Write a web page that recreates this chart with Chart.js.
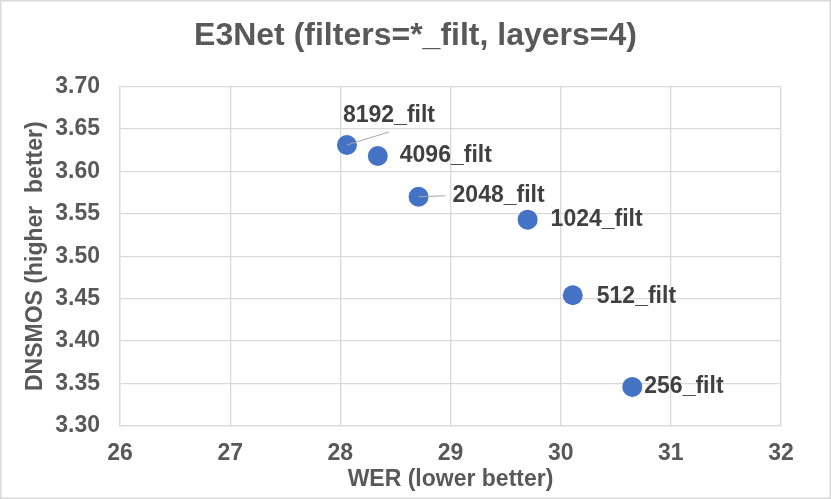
<!DOCTYPE html>
<html>
<head>
<meta charset="utf-8">
<script src="https://cdn.jsdelivr.net/npm/chart.js@4"></script>
<style>
  html, body { margin: 0; padding: 0; background: #fff; }
  #wrap { width: 831px; height: 499px; }
</style>
</head>
<body>
<div id="wrap"><canvas id="e3netChart" width="831" height="499"></canvas></div>
<script>
// data
const labels = ["8192_filt", "4096_filt", "2048_filt", "1024_filt", "512_filt", "256_filt"];
const werValues = [28.06, 28.34, 28.71, 29.70, 30.11, 30.65];
const dnsmosValues = [3.631, 3.618, 3.570, 3.543, 3.454, 3.346];
const xTicks = [26, 27, 28, 29, 30, 31, 32];
const yTicks = [3.30, 3.35, 3.40, 3.45, 3.50, 3.55, 3.60, 3.65, 3.70];

// label placement relative to each point (px), plus optional leader line end
const labelOffsets = [
    { dx: -4, dy: -29, line: [42, -13] },
    { dx: 22, dy: 0 },
    { dx: 34, dy: -1, line: [27, -1] },
    { dx: 23, dy: 0 },
    { dx: 24, dy: 1 },
    { dx: 12, dy: 0 },
];

const FONT = "'Liberation Sans', Arial, sans-serif";

/** --------------- plugins ---------------- */
const frame = {
    id: "frame",
    beforeDraw(chart) {
        const { ctx, width, height } = chart;
        ctx.save();
        ctx.fillStyle = "#fff";
        ctx.fillRect(0, 0, width, height);
        ctx.strokeStyle = "#d9d9d9";
        ctx.lineWidth = 1.5;
        ctx.strokeRect(0.75, 0.75, width - 1.5, height - 1.5);
        ctx.restore();
    },
};

const pointLabels = {
    id: "pointLabels",
    afterDatasetsDraw(chart) {
        const { ctx } = chart;
        const meta = chart.getDatasetMeta(0);
        ctx.save();
        meta.data.forEach((pt, i) => {
            const off = labelOffsets[i];
            if (off.line) {
                ctx.strokeStyle = "#a6a6a6";
                ctx.lineWidth = 1;
                ctx.beginPath();
                ctx.moveTo(pt.x, pt.y);
                ctx.lineTo(pt.x + off.line[0], pt.y + off.line[1]);
                ctx.stroke();
            }
            ctx.font = `bold 23px ${FONT}`;
            ctx.fillStyle = "#404040";
            ctx.textAlign = "left";
            ctx.textBaseline = "middle";
            ctx.fillText(labels[i], pt.x + off.dx, pt.y + off.dy);
        });
        ctx.restore();
    },
};

/** --------------- chart ---------------- */
const ctx = document.getElementById("e3netChart");
new Chart(ctx.getContext("2d"), {
    type: "scatter",
    data: {
        labels: labels,
        datasets: [
            {
                label: "E3Net",
                data: werValues.map((x, i) => ({ x: x, y: dnsmosValues[i] })),
                backgroundColor: "#4472c4",
                borderColor: "#4472c4",
                borderWidth: 0,
                pointRadius: 10,
            },
        ],
    },
    options: {
        responsive: false,
        animation: false,
        devicePixelRatio: 1,
        layout: { padding: 0 },
        plugins: {
            legend: { display: false },
            tooltip: { enabled: false },
            title: {
                display: true,
                text: "E3Net (filters=*_filt, layers=4)",
                color: "#595959",
                font: { family: FONT, size: 32, weight: "bold", lineHeight: 1.2 },
                padding: { top: 17, bottom: 31 },
            },
        },
        scales: {
            x: {
                type: "linear",
                min: xTicks[0],
                max: xTicks[xTicks.length - 1],
                afterBuildTicks: axis => { axis.ticks = xTicks.map(v => ({ value: v })); },
                afterFit: axis => { axis.height = 73; },
                grid: { color: "#d9d9d9", lineWidth: 1.3, drawTicks: false },
                border: { color: "#d9d9d9", width: 1.3 },
                ticks: {
                    color: "#595959",
                    padding: 14,
                    font: { family: FONT, size: 23, weight: "bold" },
                },
                title: {
                    display: true,
                    text: "WER (lower better)",
                    color: "#595959",
                    font: { family: FONT, size: 23, weight: "bold", lineHeight: 1.2 },
                    padding: { top: 0, bottom: 6 },
                },
            },
            y: {
                type: "linear",
                min: yTicks[0],
                max: yTicks[yTicks.length - 1],
                afterBuildTicks: axis => { axis.ticks = yTicks.map(v => ({ value: v })); },
                afterFit: axis => { axis.width = 120; },
                grid: { color: "#d9d9d9", lineWidth: 1.3, drawTicks: false },
                border: { color: "#d9d9d9", width: 1.3 },
                ticks: {
                    color: "#595959",
                    padding: 20,
                    font: { family: FONT, size: 23, weight: "bold" },
                    callback: v => v.toFixed(2),
                },
                title: {
                    display: true,
                    text: "DNSMOS (higher  better)",
                    color: "#595959",
                    font: { family: FONT, size: 23, weight: "bold", lineHeight: 1.2 },
                    padding: { top: 22, bottom: 0 },
                },
            },
            // empty right-hand axis that just reserves the margin right of the plot
            yRight: {
                type: "linear",
                position: "right",
                min: yTicks[0],
                max: yTicks[yTicks.length - 1],
                afterFit: axis => { axis.width = 50; },
                grid: { display: false, drawTicks: false },
                border: { display: false },
                ticks: { display: false },
            },
        },
    },
    plugins: [frame, pointLabels],
});
</script>
</body>
</html>
